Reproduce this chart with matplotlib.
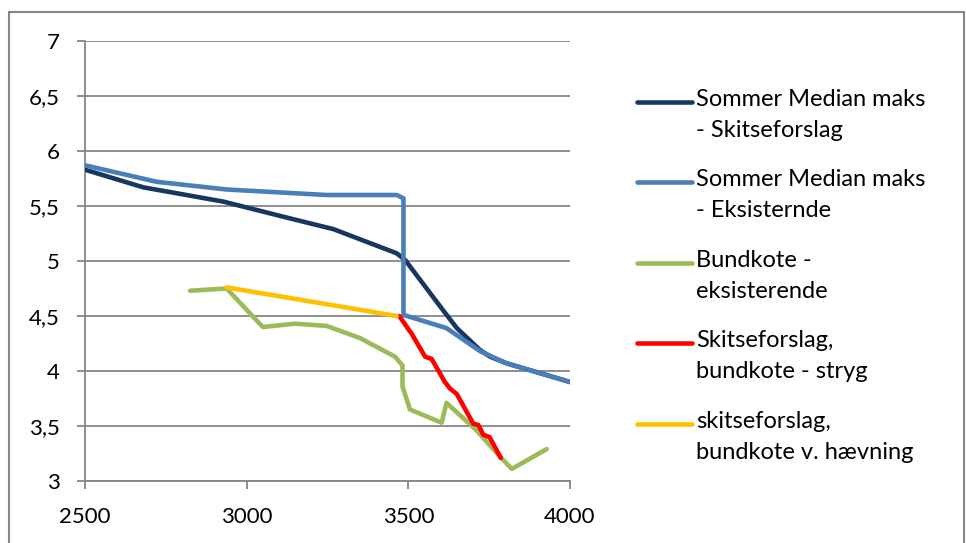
import matplotlib
matplotlib.use("Agg")
import matplotlib.pyplot as plt
from matplotlib.lines import Line2D
from matplotlib.patches import Rectangle
from matplotlib.ticker import FuncFormatter

plt.rcParams['font.family'] = ['Lato', 'DejaVu Sans']

# Sommer Median maks - Skitseforslag
navy_x = [2500, 2680, 2928, 3144, 3268, 3464, 3490, 3608, 3650, 3722, 3753, 3804, 4000]
navy_y = [5.83, 5.67, 5.54, 5.38, 5.29, 5.07, 5.01, 4.55, 4.39, 4.19, 4.13, 4.07, 3.90]

# Sommer Median maks - Eksisternde
blue_x = [2500, 2722, 2938, 3247, 3464, 3485, 3485, 3618, 3722, 3804, 4000]
blue_y = [5.87, 5.72, 5.65, 5.60, 5.60, 5.57, 4.51, 4.39, 4.18, 4.07, 3.90]

# Bundkote - eksisterende
green_x = [2825, 2938, 3050, 3150, 3247, 3350, 3459, 3482, 3482, 3505, 3603, 3618, 3711, 3784, 3820, 3928]
green_y = [4.73, 4.75, 4.40, 4.43, 4.41, 4.30, 4.13, 4.05, 3.86, 3.65, 3.53, 3.71, 3.46, 3.22, 3.11, 3.29]

# Skitseforslag, bundkote - stryg
red_x = [3472, 3505, 3508, 3552, 3572, 3613, 3629, 3650, 3701, 3716, 3732, 3751, 3786]
red_y = [4.50, 4.36, 4.35, 4.13, 4.11, 3.90, 3.84, 3.79, 3.52, 3.51, 3.42, 3.40, 3.21]

# skitseforslag, bundkote v. hævning
yellow_x = [2938, 3464]
yellow_y = [4.76, 4.50]

labels = ["Sommer Median maks\n- Skitseforslag",
          "Sommer Median maks\n- Eksisternde",
          "Bundkote -\neksisterende",
          "Skitseforslag,\nbundkote - stryg",
          "skitseforslag,\nbundkote v. hævning"]
colors = ["#17375E", "#4A7EBB", "#9BBB59", "#FF0000", "#FFC000"]

x_ticks = [2500, 3000, 3500, 4000]
y_ticks = [3, 3.5, 4, 4.5, 5, 5.5, 6, 6.5, 7]

W, H = 966, 543
fig = plt.figure(figsize=(W / 100, H / 100), dpi=100)
ax = fig.add_axes([85 / W, 1 - 481 / H, (570 - 85) / W, (481 - 41) / H])

series = [(navy_x, navy_y), (blue_x, blue_y), (green_x, green_y),
          (red_x, red_y), (yellow_x, yellow_y)]
order = [2, 0, 1, 4, 3]
for i in order:
    xs, ys = series[i]
    ax.plot(xs, ys, color=colors[i], lw=3.3, solid_capstyle='round',
            solid_joinstyle='round', zorder=3 + i)

ax.set_xlim(2500, 4000)
ax.set_ylim(3, 7)
ax.set_xticks(x_ticks)
ax.set_yticks(y_ticks)
ax.yaxis.set_major_formatter(FuncFormatter(lambda v, p: (f"{v:g}").replace('.', ',')))
ax.grid(axis='y', color='#868686', lw=1.3)
ax.set_axisbelow(True)
for s in ['top', 'right']:
    ax.spines[s].set_visible(False)
for s in ['left', 'bottom']:
    ax.spines[s].set_color('#868686')
    ax.spines[s].set_linewidth(1.3)
ax.tick_params(axis='both', colors='#868686', width=1.3, length=6, direction='out',
               labelcolor='black', labelsize=16)
ax.tick_params(axis='y', pad=12)
ax.tick_params(axis='x', pad=13)

# legend (handle aligned with first text line)
entry_y = [102, 182, 263, 343, 424]
for i, yy in enumerate(entry_y):
    fy = 1 - yy / H
    fig.add_artist(Line2D([637 / W, 692 / W], [fy, fy], color=colors[i], lw=3.3,
                          solid_capstyle='round', transform=fig.transFigure))
    fig.text(696 / W, 1 - (yy - 13) / H, labels[i], fontsize=17, va='top', ha='left',
             linespacing=1.58)

# outer frame
fig.add_artist(Rectangle((9 / W, -0.05), (964 - 9) / W, 1.05 - 12 / H,
                         transform=fig.transFigure, fill=False, ec='#868686', lw=1.5))

fig.savefig("out.png", dpi=100)
